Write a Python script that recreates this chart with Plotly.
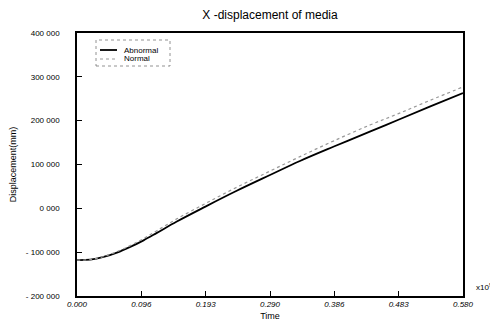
import plotly.graph_objects as go

# Data (values in thousands)
time = [0.000, 0.020, 0.040, 0.060, 0.080, 0.100, 0.120, 0.150, 0.193, 0.240,
        0.290, 0.335, 0.386, 0.440, 0.483, 0.530, 0.580]
abnormal = [-118, -117, -111, -101, -88, -73, -56, -30, 4, 40,
            76, 108, 141, 175, 202, 232, 263]
normal = [-118, -117, -110, -99, -85, -69, -51, -24, 11, 48,
          85, 118, 154, 190, 216, 246, 277]
series_names = ["Abnormal", "Normal"]

x_tickvals = [0.0, 0.58 / 6, 0.58 * 2 / 6, 0.58 * 3 / 6, 0.58 * 4 / 6, 0.58 * 5 / 6, 0.58]
x_ticktext = ["0.000", "0.096", "0.193", "0.290", "0.386", "0.483", "0.580"]
y_tickvals = [400, 300, 200, 100, 0, -100, -200]
y_ticktext = ["400 000", "300 000", "200 000", "100 000", "0 000", "- 100 000", "- 200 000"]

FONT = "Liberation Sans, Arial, sans-serif"
OFF = 8  # page body margin of the html page
W, H = 498 - OFF, 333 - OFF
# plot area in page pixels
L, R, T, B = 77, 463, 33, 296
PW, PH = R - L, B - T

def px(xp):
    return (xp - L) / PW

def py(yp):
    return (B - yp) / PH

styles = [dict(color="black", width=1.8), dict(color="#999999", width=1.2, dash="dot")]

fig = go.Figure()
fig.add_trace(go.Scatter(x=time, y=abnormal, mode="lines", name=series_names[0],
                         line=styles[0], line_shape="spline"))
fig.add_trace(go.Scatter(x=time, y=normal, mode="lines", name=series_names[1],
                         line=styles[1], line_shape="spline"))

fig.update_layout(
    width=W, height=H,
    margin=dict(l=L - OFF, r=W - (R - OFF), t=T - OFF, b=H - (B - OFF), autoexpand=False),
    paper_bgcolor="white", plot_bgcolor="white",
    font=dict(family=FONT, color="black", size=8),
    title=dict(text="X -displacement of media", x=(270 - OFF) / W, xanchor="center",
               y=1 - (15 - OFF) / H, yanchor="middle", font=dict(size=12, family=FONT)),
    showlegend=False,
)
fig.update_xaxes(range=[0, 0.58], tickvals=x_tickvals, ticktext=x_ticktext,
                 showgrid=False, zeroline=False, ticks="inside", ticklen=5,
                 tickcolor="black", showline=True, linecolor="black", linewidth=1.5,
                 mirror=True, automargin=False,
                 tickfont=dict(size=8, family=FONT, style="italic"),
                 title=dict(text="Time", font=dict(size=9, family=FONT), standoff=4))
fig.update_yaxes(range=[-200, 400], tickvals=y_tickvals, ticktext=y_ticktext,
                 showgrid=False, zeroline=False, ticks="inside", ticklen=5,
                 tickcolor="black", showline=True, linecolor="black", linewidth=1.5,
                 mirror=True, automargin=False,
                 tickfont=dict(size=8, family=FONT), ticklabelstandoff=14,
                 title=dict(text="Displacement(mm)", font=dict(size=9, family=FONT), standoff=12))

# custom legend: dotted frame, sample lines and labels
fig.add_shape(type="rect", xref="paper", yref="paper",
              x0=px(96), x1=px(170), y0=py(66), y1=py(40),
              line=dict(color="#777777", width=0.8, dash="dot"))
for i, name in enumerate(series_names):
    yy = 50 + i * 9
    fig.add_shape(type="line", xref="paper", yref="paper",
                  x0=px(100), x1=px(117), y0=py(yy), y1=py(yy), line=styles[i])
    fig.add_annotation(text=name, xref="paper", yref="paper", x=px(122), y=py(yy),
                       xanchor="left", yanchor="middle", showarrow=False,
                       font=dict(size=8, family=FONT))

fig.add_annotation(text="x10<sup>9</sup>", xref="paper", yref="paper",
                   x=px(474), y=py(287), xanchor="left", yanchor="middle",
                   showarrow=False, font=dict(size=8, family=FONT))

fig.write_html("out.html")
